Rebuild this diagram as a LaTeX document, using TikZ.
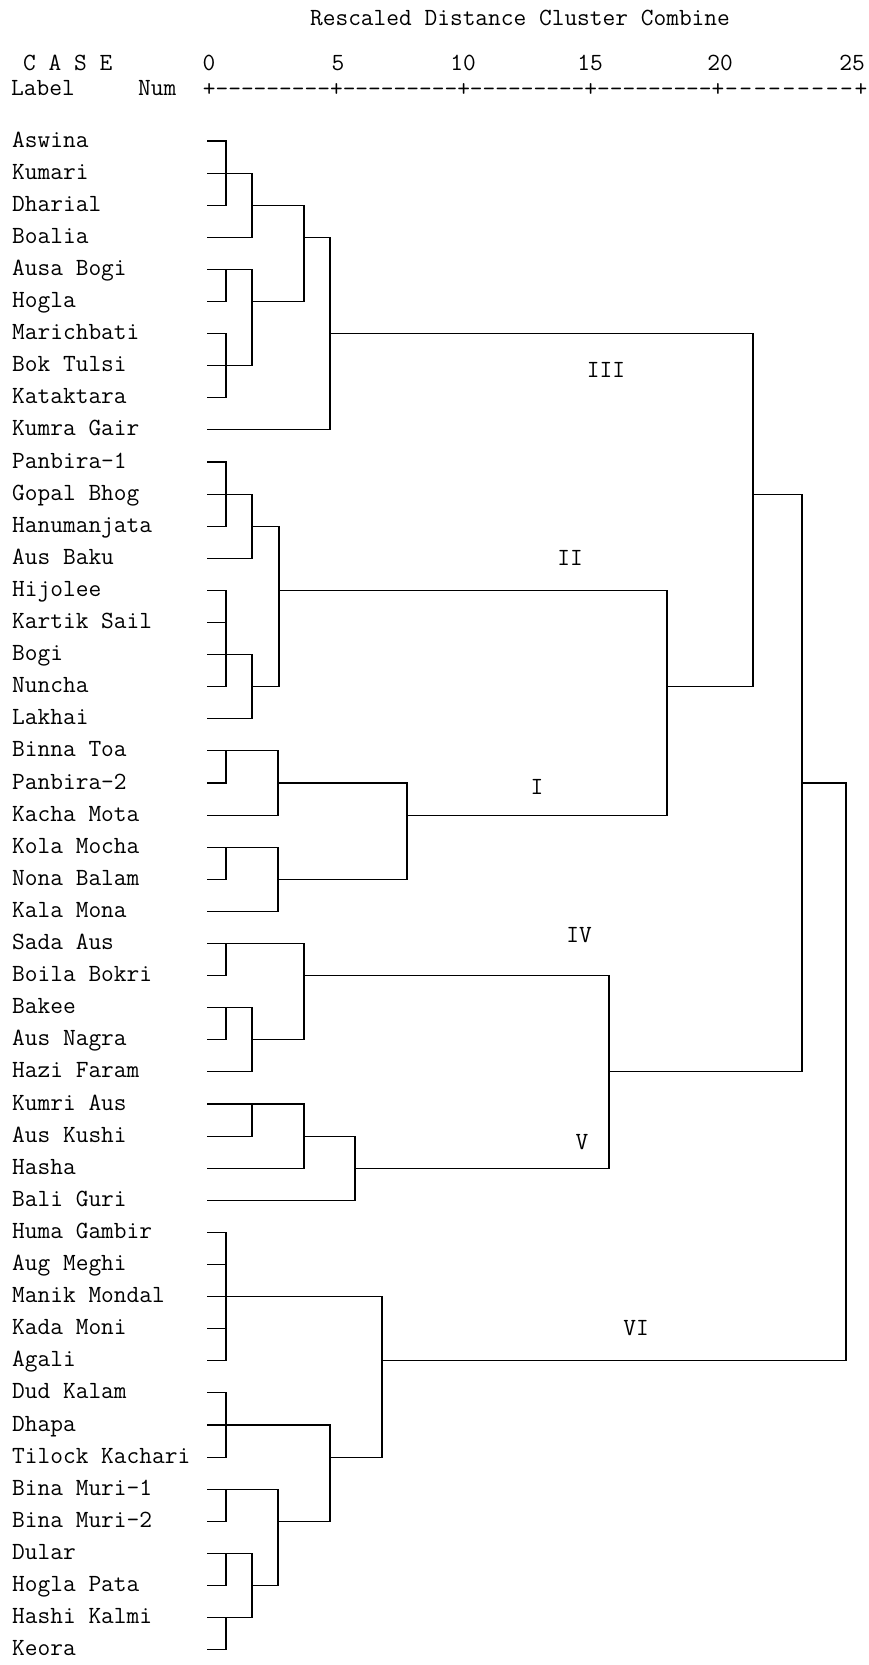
\documentclass[tikz,border=0pt]{standalone}
\usepackage{fontspec}
\usepackage{tikz}
\newcommand{\dendfont}{\fontsize{24.7}{29}\selectfont\ttfamily}
\newcommand{\rowy}[1]{-141-32.1*#1}
% join two arms at column #5: arm from (#1,row #2), arm from (#3,row #4)
\newcommand{\joint}[5]{\draw[denline] (#1,\rowy{#2}) -| (#5,\rowy{#4}) -- (#3,\rowy{#4});}
\newcommand{\arm}[1]{\draw[denline] (207,\rowy{#1}) -- (226,\rowy{#1});}
\tikzset{
  denline/.style={line width=1.1pt,draw=black},
  leaflabel/.style={anchor=base west,inner sep=0pt,font=\dendfont},
  headtext/.style={anchor=base,inner sep=0pt,font=\dendfont},
  axischar/.style={anchor=base,inner sep=0pt,font=\dendfont},
  clusterlabel/.style={inner sep=0pt,font=\dendfont}
}
\begin{document}
\begin{tikzpicture}[x=1pt,y=1pt]
\useasboundingbox (0,0) rectangle (868,-1665);
% header
\node[headtext] (title) at (520,-25) {Rescaled Distance Cluster Combine};
\node[headtext,anchor=base west] (casehead) at (23,-70) {C A S E};
\node[headtext,anchor=base west] (labelhead) at (11,-95) {Label};
\node[headtext,anchor=base west] (numhead) at (138,-95) {Num};
\foreach \v/\x in {0/209,5/338,10/463,15/590,20/720,25/852}
  \node[headtext] (tick\v) at (\x,-70) {\v};
\node[axischar,anchor=base west] (axis) at (202.65,-96) {+---------+---------+---------+---------+};
\foreach \k in {1,...,9}
  \node[axischar] at ({717+\k*14.4},-96) {-};
\node[axischar] (axisend) at (861,-96) {+};
% cases
\foreach \lbl [count=\i from 0] in {Aswina,Kumari,Dharial,Boalia,Ausa Bogi,Hogla,Marichbati,Bok Tulsi,Kataktara,Kumra Gair,Panbira-1,Gopal Bhog,Hanumanjata,Aus Baku,Hijolee,Kartik Sail,Bogi,Nuncha,Lakhai,Binna Toa,Panbira-2,Kacha Mota,Kola Mocha,Nona Balam,Kala Mona,Sada Aus,Boila Bokri,Bakee,Aus Nagra,Hazi Faram,Kumri Aus,Aus Kushi,Hasha,Bali Guri,Huma Gambir,Aug Meghi,Manik Mondal,Kada Moni,Agali,Dud Kalam,Dhapa,Tilock Kachari,Bina Muri-1,Bina Muri-2,Dular,Hogla Pata,Hashi Kalmi,Keora}
  \node[leaflabel] (leaf\i) at (12,\rowy{\i}-6) {\lbl};
% cluster III
\joint{207}{0}{207}{2}{226} \arm{1}
\joint{226}{1}{207}{3}{252}
\joint{207}{4}{207}{5}{226}
\joint{207}{6}{207}{8}{226} \arm{7}
\joint{226}{4}{226}{7}{252}
\joint{252}{2}{252}{5}{304}
\joint{304}{3}{207}{9}{330}
% cluster II
\joint{207}{10}{207}{12}{226} \arm{11}
\joint{226}{11}{207}{13}{252}
\joint{207}{14}{207}{17}{226} \arm{15} \arm{16}
\joint{226}{16}{207}{18}{252}
\joint{252}{12}{252}{17}{279}
% cluster I
\joint{207}{19}{207}{20}{226}
\joint{226}{19}{207}{21}{278}
\joint{207}{22}{207}{23}{226}
\joint{226}{22}{207}{24}{278}
\joint{278}{20}{278}{23}{407}
\joint{279}{14}{407}{21}{667}
\joint{330}{6}{667}{17}{753}
% clusters IV and V
\joint{207}{25}{207}{26}{226}
\joint{207}{27}{207}{28}{226}
\joint{226}{27}{207}{29}{252}
\joint{226}{25}{252}{28}{304}
\joint{207}{30}{207}{31}{252}
\joint{252}{30}{207}{32}{304}
\joint{304}{31}{207}{33}{355}
\joint{304}{26}{355}{32}{609}
\joint{753}{11}{609}{29}{802}
% cluster VI
\joint{207}{34}{207}{38}{226} \arm{35} \arm{36} \arm{37}
\joint{207}{39}{207}{41}{226} \arm{40}
\joint{207}{42}{207}{43}{226}
\joint{207}{44}{207}{45}{226}
\joint{207}{46}{207}{47}{226}
\joint{226}{44}{226}{46}{252}
\joint{226}{42}{252}{45}{278}
\joint{226}{40}{278}{43}{330}
\joint{226}{36}{330}{41}{382}
\joint{802}{20}{382}{38}{846}
% cluster numbers
\node[clusterlabel] (cIII) at (606,-370) {III};
\node[clusterlabel] (cII) at (570,-558) {II};
\node[clusterlabel] (cI) at (537,-787) {I};
\node[clusterlabel] (cIV) at (579,-935) {IV};
\node[clusterlabel] (cV) at (582,-1142) {V};
\node[clusterlabel] (cVI) at (636,-1328) {VI};
\end{tikzpicture}
\end{document}
